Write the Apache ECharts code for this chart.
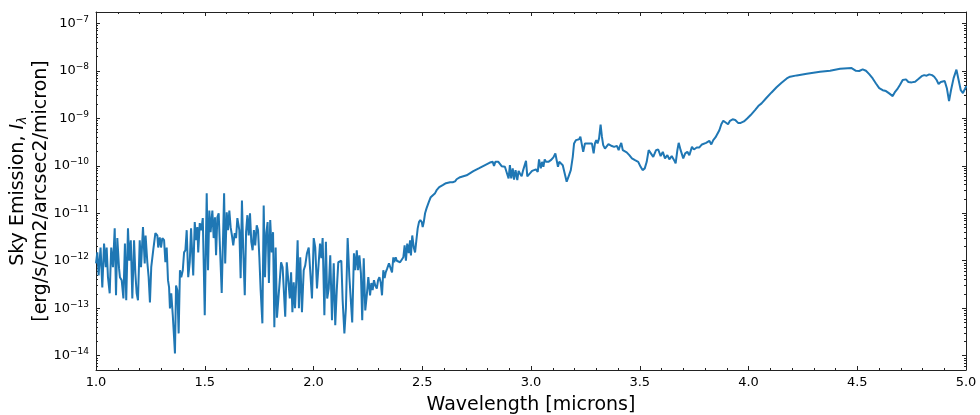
<!DOCTYPE html>
<html>
<head>
<meta charset="utf-8">
<script src="https://cdn.jsdelivr.net/npm/echarts@6/dist/echarts.min.js"></script>
<style>
  html, body { margin: 0; padding: 0; background: #fff; }
  #sky { width: 980px; height: 415px; }
</style>
</head>
<body>
<div id="sky"></div>
<script>
// wavelength in microns
var wavelength = [
  1.000,1.006,1.012,1.021,1.029,1.037,1.045,1.049,1.055,1.063,1.070,1.078,1.086,1.092,1.098,1.106,1.110,1.118,1.126,1.133,
  1.139,1.147,1.153,1.160,1.167,1.175,1.181,1.187,1.193,1.201,1.207,1.216,1.224,1.228,1.236,1.242,1.248,1.254,1.263,1.273,
  1.282,1.286,1.293,1.299,1.305,1.313,1.319,1.325,1.331,1.336,1.340,1.346,1.353,1.359,1.363,1.368,1.374,1.380,1.386,1.392,
  1.399,1.405,1.411,1.417,1.424,1.431,1.437,1.447,1.454,1.460,1.466,1.470,1.477,1.484,1.491,1.500,1.509,1.515,1.521,1.527,
  1.535,1.541,1.547,1.552,1.558,1.564,1.570,1.578,1.589,1.594,1.601,1.607,1.613,1.619,1.625,1.631,1.638,1.644,1.650,1.659,
  1.665,1.671,1.677,1.684,1.690,1.696,1.702,1.708,1.714,1.720,1.726,1.732,1.739,1.745,1.751,1.757,1.765,1.771,1.777,1.783,
  1.789,1.795,1.801,1.808,1.814,1.820,1.826,1.832,1.838,1.845,1.851,1.858,1.864,1.870,1.877,1.884,1.891,1.897,1.903,1.909,
  1.915,1.921,1.927,1.933,1.939,1.947,1.955,1.962,1.970,1.978,1.984,1.993,2.001,2.008,2.016,2.024,2.030,2.036,2.042,2.050,
  2.057,2.063,2.070,2.077,2.085,2.093,2.100,2.107,2.114,2.122,2.128,2.134,2.142,2.149,2.157,2.165,2.171,2.178,2.186,2.192,
  2.199,2.205,2.211,2.218,2.224,2.231,2.238,2.245,2.252,2.260,2.266,2.272,2.278,2.284,2.291,2.297,2.303,2.309,2.315,2.321,
  2.327,2.332,2.339,2.347,2.355,2.361,2.367,2.371,2.378,2.383,2.390,2.398,2.406,2.413,2.419,2.425,2.431,2.438,2.444,2.448,
  2.454,2.461,2.467,2.473,2.479,2.485,2.491,2.498,2.502,2.507,2.513,2.520,2.530,2.539,2.548,2.559,2.566,2.578,2.594,2.609,
  2.628,2.640,2.651,2.658,2.674,2.704,2.735,2.762,2.766,2.811,2.824,2.830,2.836,2.842,2.850,2.857,2.865,2.872,2.880,2.888,
  2.897,2.903,2.909,2.916,2.922,2.929,2.937,2.943,2.949,2.957,2.964,2.972,2.977,2.983,2.989,2.995,3.005,3.014,3.023,3.031,
  3.037,3.045,3.051,3.057,3.063,3.069,3.080,3.091,3.103,3.112,3.118,3.124,3.130,3.138,3.146,3.155,3.164,3.173,3.183,3.192,
  3.198,3.207,3.213,3.221,3.227,3.233,3.240,3.248,3.256,3.263,3.271,3.280,3.288,3.294,3.300,3.306,3.313,3.320,3.326,3.332,
  3.340,3.348,3.356,3.363,3.372,3.382,3.389,3.395,3.403,3.409,3.415,3.422,3.431,3.440,3.452,3.464,3.478,3.493,3.504,3.513,
  3.523,3.532,3.541,3.547,3.562,3.575,3.585,3.596,3.606,3.616,3.627,3.636,3.647,3.658,3.665,3.673,3.679,3.688,3.700,3.709,
  3.719,3.728,3.740,3.749,3.762,3.774,3.786,3.795,3.805,3.814,3.820,3.829,3.838,3.848,3.857,3.866,3.875,3.884,3.893,3.906,
  3.915,3.927,3.939,3.952,3.964,3.979,3.994,4.010,4.030,4.045,4.060,4.083,4.106,4.129,4.152,4.176,4.191,4.222,4.268,4.329,
  4.375,4.421,4.474,4.482,4.494,4.509,4.525,4.540,4.555,4.571,4.586,4.601,4.617,4.632,4.647,4.663,4.674,4.684,4.696,4.709,
  4.724,4.735,4.750,4.766,4.781,4.796,4.808,4.819,4.831,4.844,4.854,4.865,4.874,4.884,4.893,4.902,4.912,4.922,4.931,4.943,
  4.956,4.966,4.976,4.986,4.995,5.002
];

// sky emission, erg/s/cm2/arcsec2/micron
var emission = [
  8.8e-13,1.5e-12,4.9e-13,1.9e-12,2.75e-13,2.3e-12,7.3e-13,1.9e-12,4.5e-13,2.06e-13,1.9e-12,7.3e-13,4.8e-12,1.87e-13,3.0e-12,6.9e-13,4.5e-13,3.9e-13,1.6e-13,2.3e-12,
  1.47e-13,4.8e-12,1.0e-12,2.7e-12,1.6e-13,2.7e-12,5.4e-13,2.06e-13,1.47e-13,2.7e-12,7.3e-13,5.1e-12,8.8e-13,3.4e-12,9.3e-13,4.5e-13,1.33e-13,7.3e-13,1.66e-12,3.8e-12,
  3.4e-12,1.9e-12,3.1e-12,1.9e-12,3.0e-12,2.7e-12,9.3e-13,1.9e-12,3.9e-13,2.75e-13,9.9e-14,2.06e-13,7.1e-14,2.4e-14,1.12e-14,3.0e-13,2.4e-13,2.95e-14,6.3e-13,4.5e-13,
  6.3e-13,1.5e-12,1.66e-12,4.4e-12,4.5e-13,9.3e-13,4.8e-12,4.9e-13,6.5e-12,2.7e-12,5.1e-12,1.5e-12,6.2e-12,4.4e-12,7.9e-12,7.1e-14,2.65e-11,6.3e-13,1.14e-11,4.0e-12,
  1.14e-11,3.0e-12,8.2e-12,1.3e-12,8.2e-12,1.0e-11,1.9e-12,2.1e-13,2.65e-11,8.8e-13,1.05e-11,4.4e-12,1.14e-11,5.1e-12,3.4e-12,2.1e-12,3.8e-12,3.0e-12,7.9e-12,4.4e-12,
  4.3e-13,1.86e-11,1.66e-12,1.87e-13,4.0e-12,9.1e-12,3.4e-12,1.0e-11,2.5e-12,1.66e-12,4.4e-12,2.1e-12,5.6e-12,4.4e-12,1.18e-12,2.4e-13,4.8e-14,1.46e-11,4.5e-13,3.8e-12,
  6.5e-12,3.4e-13,7.2e-12,1.5e-12,4.0e-12,3.96e-14,1.9e-12,6.3e-14,6.6e-14,3.9e-13,9.3e-13,7.3e-13,6.9e-13,6.6e-14,9.3e-13,3.9e-13,1.6e-13,5.7e-13,8.2e-14,3.5e-13,
  1.0e-13,3.9e-13,2.7e-12,1.0e-13,1.18e-12,8.2e-14,6.3e-13,8.0e-13,1.44e-12,1.9e-12,1.9e-12,1.6e-13,3.0e-12,1.9e-12,2.6e-13,9.3e-13,2.3e-12,1.13e-12,3.0e-12,7.1e-14,
  2.5e-12,1.6e-13,2.6e-13,1.3e-12,5.6e-14,8.8e-13,4.4e-14,2.4e-13,9.3e-13,9.3e-13,1.0e-12,1.47e-13,2.95e-14,1.0e-13,3.0e-12,4.5e-13,4.9e-13,5.0e-14,1.44e-12,6.3e-13,
  1.66e-12,6.3e-13,1.3e-12,5.4e-13,5.6e-14,1.13e-12,9.0e-14,1.87e-13,4.5e-13,1.87e-13,3.4e-13,2.4e-13,3.9e-13,3.0e-13,2.6e-13,3.9e-13,4.5e-13,3.5e-13,1.87e-13,6.3e-13,
  4.3e-13,5.7e-13,6.9e-13,8.8e-13,8.0e-13,5.7e-13,1.18e-12,9.3e-13,1.18e-12,1.0e-12,1.0e-12,9.3e-13,8.8e-13,1.18e-12,2.1e-12,1.0e-12,2.3e-12,1.44e-12,2.7e-12,1.3e-12,
  3.4e-12,1.9e-12,1.5e-12,2.7e-12,4.8e-12,6.5e-12,7.2e-12,6.5e-12,5.1e-12,6.5e-12,1.0e-11,1.28e-11,1.71e-11,2.18e-11,2.4e-11,2.65e-11,3.06e-11,3.54e-11,3.9e-11,4.3e-11,
  4.5e-11,4.5e-11,4.7e-11,5.2e-11,5.75e-11,6.3e-11,7.7e-11,8.9e-11,9.5e-11,1.17e-10,1.21e-10,9.96e-11,1.21e-10,1.12e-10,1.21e-10,1.12e-10,9.8e-11,9.8e-11,9.5e-11,8.8e-11,
  5.4e-11,1.03e-10,5.4e-11,8.8e-11,5.1e-11,8.1e-11,5.0e-11,7.8e-11,6.9e-11,6.0e-11,8.1e-11,7.4e-11,1.27e-10,6.0e-11,6.3e-11,6.9e-11,7.8e-11,7.8e-11,8.4e-11,7.4e-11,
  1.36e-10,8.8e-11,1.21e-10,9.5e-11,1.36e-10,1.21e-10,1.21e-10,1.31e-10,1.5e-10,1.82e-10,1.31e-10,9.5e-11,1.21e-10,1.12e-10,1.03e-10,6.9e-11,4.6e-11,6.0e-11,8.1e-11,1.54e-10,
  2.95e-10,3.47e-10,3.2e-10,3.6e-10,4.1e-10,3.95e-10,1.96e-10,2.95e-10,2.95e-10,2.95e-10,2.86e-10,2.95e-10,1.82e-10,2.95e-10,3.47e-10,2.95e-10,3.77e-10,7.4e-10,4.1e-10,2.72e-10,
  2.3e-10,2.5e-10,2.86e-10,2.86e-10,2.6e-10,2.5e-10,2.3e-10,2.63e-10,2.13e-10,2.6e-10,3.04e-10,2.13e-10,2.13e-10,1.91e-10,1.67e-10,1.43e-10,1.31e-10,1.21e-10,9.5e-11,8.1e-11,
  8.8e-11,1.21e-10,2.13e-10,2.3e-10,1.54e-10,2.13e-10,2.2e-10,1.6e-10,1.96e-10,1.43e-10,1.67e-10,1.36e-10,1.6e-10,1.31e-10,1.12e-10,2.13e-10,3.04e-10,2.13e-10,1.43e-10,1.82e-10,
  1.96e-10,1.67e-10,2.5e-10,2.2e-10,2.43e-10,2.43e-10,2.81e-10,2.72e-10,3.04e-10,2.95e-10,3.35e-10,2.81e-10,3.47e-10,3.95e-10,4.2e-10,5.6e-10,7.5e-10,8.85e-10,8.85e-10,7.5e-10,
  8.85e-10,9.5e-10,9.2e-10,8.0e-10,8.0e-10,8.6e-10,9.9e-10,1.17e-9,1.49e-9,1.81e-9,2.06e-9,2.7e-9,3.5e-9,4.5e-9,5.6e-9,6.9e-9,7.5e-9,8.0e-9,8.7e-9,9.55e-9,
  1.0e-8,1.1e-8,1.14e-8,1.12e-8,1.0e-8,9.9e-9,1.07e-8,1.0e-8,8.5e-9,6.9e-9,5.4e-9,4.3e-9,3.9e-9,3.74e-9,3.34e-9,2.93e-9,3.6e-9,4.1e-9,5.0e-9,6.4e-9,
  6.6e-9,5.8e-9,5.7e-9,5.9e-9,6.7e-9,7.7e-9,8.1e-9,7.9e-9,8.4e-9,8.1e-9,7.5e-9,6.4e-9,5.25e-9,5.8e-9,6.1e-9,6.1e-9,4.3e-9,2.3e-9,3.9e-9,7.0e-9,
  1.06e-8,6.4e-9,3.9e-9,3.4e-9,3.56e-9,4.8e-9
];

var xTicks = ['1.0', '1.5', '2.0', '2.5', '3.0', '3.5', '4.0', '4.5', '5.0'];

var chartDom = document.getElementById('sky');
var myChart = echarts.init(chartDom, null, { renderer: 'canvas' });

var points = wavelength.map(function (w, i) { return [w, emission[i]]; });

var frameColor = '#222';
var font = 'DejaVu Sans';

function expLabel(v) {
  var e = Math.round(Math.log10(v));
  return '10{sup|' + String(e).replace('-', '\u2212') + '}';
}

var xCommon = {
  type: 'value',
  min: 1,
  max: 5,
  interval: 0.5,
  axisLine: { show: true, onZero: false, lineStyle: { color: frameColor, width: 1 } },
  axisTick: { show: true, inside: true, length: 4, lineStyle: { color: frameColor } },
  minorTick: { show: true, splitNumber: 5, length: 2, lineStyle: { color: frameColor } },
  splitLine: { show: false }
};

var yCommon = {
  type: 'log',
  logBase: 10,
  min: 5e-15,
  max: 1.73e-7,
  axisLine: { show: true, lineStyle: { color: frameColor, width: 1 } },
  axisTick: { show: true, inside: true, length: 4, lineStyle: { color: frameColor } },
  minorTick: { show: true, splitNumber: 9, length: 2, lineStyle: { color: frameColor } },
  splitLine: { show: false }
};

var option = {
  animation: false,
  backgroundColor: '#fff',
  grid: { left: 96, right: 14, top: 12, bottom: 45, containLabel: false, outerBoundsMode: 'none' },
  xAxis: [
    Object.assign({}, xCommon, {
      position: 'bottom',
      name: 'Wavelength [microns]',
      nameLocation: 'middle',
      nameGap: 26,
      nameTextStyle: { fontFamily: font, fontSize: 19, color: '#000' },
      axisLabel: {
        margin: 6,
        fontFamily: font,
        fontSize: 13,
        color: '#000',
        formatter: function (v) { return xTicks[Math.round((v - 1) * 2)]; }
      }
    }),
    Object.assign({}, xCommon, { position: 'top', axisLabel: { show: false } })
  ],
  yAxis: [
    Object.assign({}, yCommon, {
      position: 'left',
      name: 'Sky Emission, {it|I}{sub|\u03bb}\n[erg/s/cm2/arcsec2/micron]',
      nameLocation: 'middle',
      nameRotate: 90,
      nameGap: 43,
      nameMoveOverlap: false,
      nameTextStyle: {
        fontFamily: font,
        fontSize: 19,
        color: '#000',
        lineHeight: 23,
        rich: {
          it: { fontFamily: font, fontSize: 19, fontStyle: 'italic', color: '#000' },
          sub: { fontFamily: font, fontSize: 13, fontStyle: 'italic', color: '#000', padding: [9, 0, 0, 0] }
        }
      },
      axisLabel: {
        margin: 7,
        fontFamily: font,
        fontSize: 13,
        color: '#000',
        showMinLabel: false,
        showMaxLabel: false,
        formatter: expLabel,
        rich: {
          sup: { fontFamily: font, fontSize: 9, color: '#000', padding: [0, 0, 8, 0] }
        }
      }
    }),
    Object.assign({}, yCommon, { position: 'right', axisLabel: { show: false } })
  ],
  series: [
    {
      name: 'Sky emission',
      type: 'line',
      xAxisIndex: 0,
      yAxisIndex: 0,
      data: points,
      showSymbol: false,
      symbol: 'none',
      smooth: false,
      lineStyle: { color: '#1f77b4', width: 2 },
      itemStyle: { color: '#1f77b4' }
    }
  ]
};

myChart.setOption(option);
</script>
</body>
</html>
